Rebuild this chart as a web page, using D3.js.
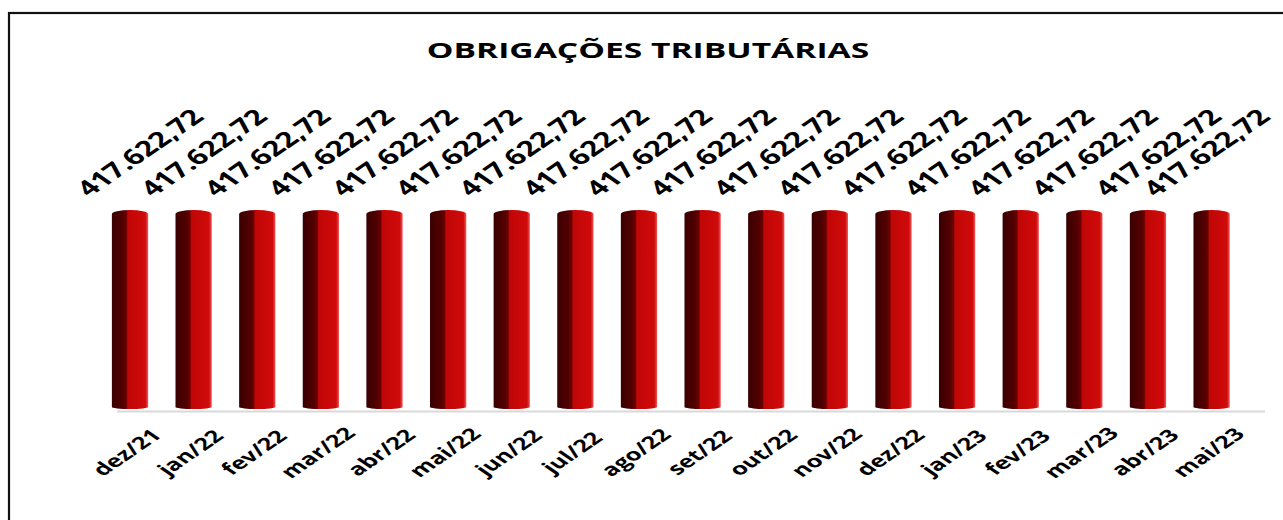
<!DOCTYPE html>
<html>
<head>
<meta charset="utf-8">
<style>
  body { margin: 0; background: #fff; }
  text { font-family: "Open Sans", Arial, sans-serif; font-weight: 700; fill: #000; }
</style>
</head>
<body>
<script src="https://d3js.org/d3.v7.min.js"></script>
<script>
  const title = 'OBRIGAÇÕES TRIBUTÁRIAS';
  const months = ['dez/21', 'jan/22', 'fev/22', 'mar/22', 'abr/22', 'mai/22', 'jun/22', 'jul/22', 'ago/22',
    'set/22', 'out/22', 'nov/22', 'dez/22', 'jan/23', 'fev/23', 'mar/23', 'abr/23', 'mai/23'];
  const values = [417622.72, 417622.72, 417622.72, 417622.72, 417622.72, 417622.72, 417622.72, 417622.72, 417622.72,
    417622.72, 417622.72, 417622.72, 417622.72, 417622.72, 417622.72, 417622.72, 417622.72, 417622.72];

  const width = 1283, height = 520;
  const stretch = 1.46; // text in the picture is wider than it is tall
  const along = 1.04;   // small stretch along the text line

  const fmt = v => {
    const [i, d] = v.toFixed(2).split('.');
    return i.replace(/\B(?=(\d{3})+(?!\d))/g, '.') + ',' + d;
  };

  const svg = d3.select('body').append('svg')
    .attr('width', width)
    .attr('height', height);

  const defs = svg.append('defs');
  const grad = defs.append('linearGradient')
    .attr('id', 'cyl')
    .attr('x1', '0%').attr('x2', '100%').attr('y1', '0%').attr('y2', '0%');
  grad.append('stop').attr('offset', '0%').attr('stop-color', '#3a0000');
  grad.append('stop').attr('offset', '30%').attr('stop-color', '#520000');
  grad.append('stop').attr('offset', '40%').attr('stop-color', '#6a0202');
  grad.append('stop').attr('offset', '44%').attr('stop-color', '#c00606');
  grad.append('stop').attr('offset', '92%').attr('stop-color', '#d00a0a');
  grad.append('stop').attr('offset', '100%').attr('stop-color', '#e85a5a');

  // frame
  svg.append('rect')
    .attr('x', 9).attr('y', 13)
    .attr('width', width + 20).attr('height', height + 20)
    .attr('fill', 'none')
    .attr('stroke', '#111')
    .attr('stroke-width', 2.2);

  svg.append('text')
    .attr('transform', `translate(648,58) scale(1.6,1)`)
    .attr('text-anchor', 'middle')
    .style('font-size', '21px')
    .text(title);

  const x = d3.scaleBand()
    .domain(months)
    .range([98.2, 1243.4])
    .paddingInner(0.43)
    .paddingOuter(0.215);

  const y = d3.scaleLinear()
    .domain([0, 500000])
    .range([408, 171]);

  // base line
  svg.append('line')
    .attr('x1', 117).attr('x2', 1265)
    .attr('y1', 411.5).attr('y2', 411.5)
    .attr('stroke', '#d9d9d9')
    .attr('stroke-width', 2);

  const bw = x.bandwidth();
  svg.append('g')
    .selectAll('path')
    .data(months)
    .join('path')
    .attr('fill', 'url(#cyl)')
    .attr('d', (d, i) => {
      const x0 = x(d), x1 = x0 + bw, yt = y(values[i]), yb = y(0);
      return `M${x0},${yb - 1} V${yt + 4} A${bw / 2},4 0 0 1 ${x1},${yt + 4} V${yb - 1} A${bw / 2},2 0 0 1 ${x0},${yb - 1} Z`;
    });

  // value labels
  svg.append('g')
    .selectAll('text')
    .data(months)
    .join('text')
    .attr('transform', (d, i) => {
      const cx = Math.min(x(d) + bw / 2 + 9, 1205.5);
      return `translate(${cx},${y(values[i]) - 58}) scale(${stretch},1) rotate(-45) scale(${along},1)`;
    })
    .attr('text-anchor', 'middle')
    .attr('dominant-baseline', 'central')
    .style('font-size', '21px')
    .text((d, i) => fmt(values[i]));

  // category labels
  svg.append('g')
    .selectAll('text')
    .data(months)
    .join('text')
    .attr('transform', d => `translate(${x(d) + bw / 2 - 4},452) scale(${stretch},1) rotate(-45) scale(${along},1)`)
    .attr('text-anchor', 'middle')
    .attr('dominant-baseline', 'central')
    .style('font-size', '17px')
    .text(d => d);
</script>
</body>
</html>
